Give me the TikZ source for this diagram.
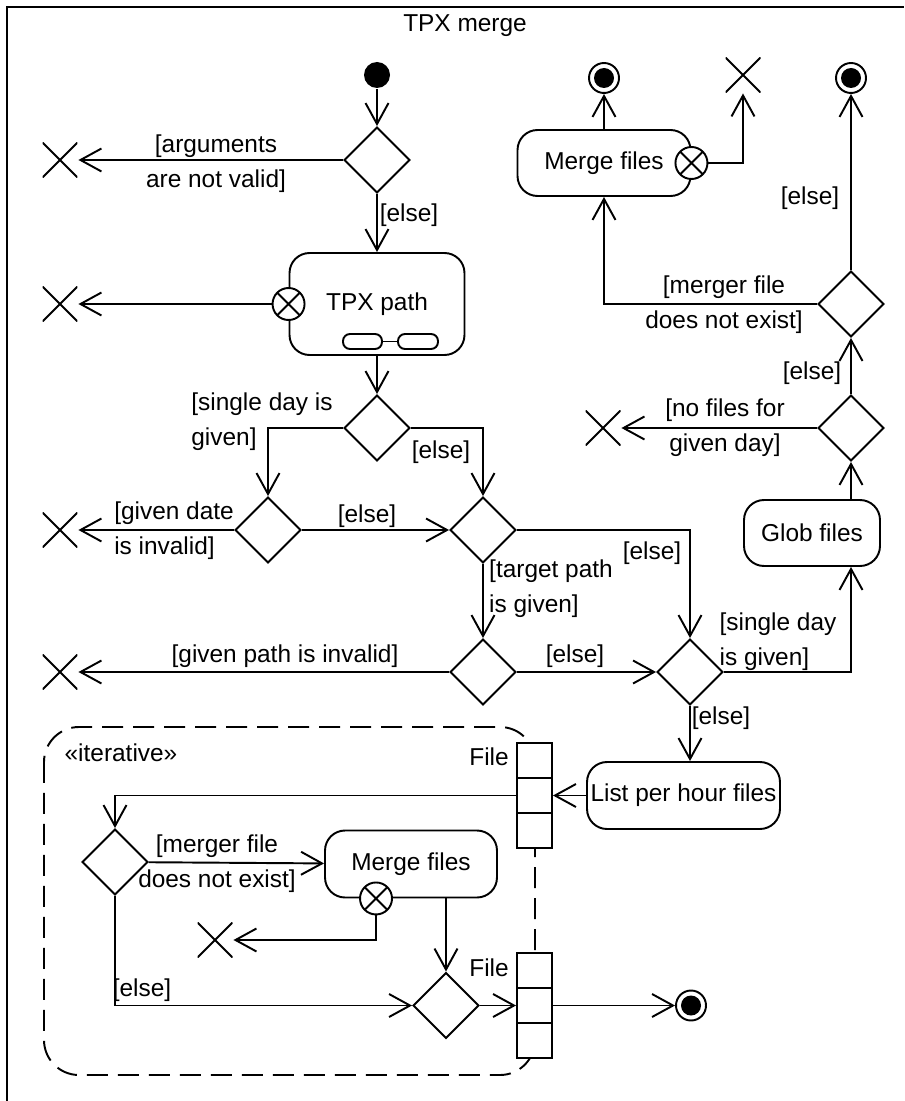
\documentclass[tikz,border=0pt]{standalone}
\usepackage{fontspec}
\setmainfont{Liberation Sans}
\usetikzlibrary{shapes.geometric,arrows.meta}

\begin{document}
\begin{tikzpicture}[x=0.02cm, y=-0.02cm, line width=1.1pt,
    font=\fontsize{13.9}{19.9}\selectfont,
    flow/.style={-{Straight Barb[length=0.42cm,width=0.46cm]}},
    action/.style={draw, fill=white, rounded corners=0.4cm, inner sep=0pt, minimum height=1.32cm},
    decision/.style={draw, fill=white, diamond, inner sep=0pt, minimum size=1.32cm},
    start/.style={circle, fill=black, inner sep=0pt, minimum size=0.52cm},
    stop/.style={circle, draw, fill=white, inner sep=0pt, minimum size=0.6cm,
        path picture={\fill[black] (path picture bounding box.center) circle (0.2cm);}},
    flowend/.style={inner sep=0pt, minimum size=0.7cm,
        path picture={\draw[line width=1.1pt] (path picture bounding box.north west) -- (path picture bounding box.south east)
            (path picture bounding box.south west) -- (path picture bounding box.north east);}},
    xpin/.style={circle, draw, fill=white, inner sep=0pt, minimum size=0.64cm,
        path picture={\draw[line width=1.1pt] (path picture bounding box.north west) -- (path picture bounding box.south east)
            (path picture bounding box.south west) -- (path picture bounding box.north east);}},
    objpin/.style={draw, fill=white, inner sep=0pt, minimum width=0.7cm, minimum height=2.1cm,
        path picture={\draw[line width=1.1pt] ([yshift=-0.7cm]path picture bounding box.north west) -- ([yshift=-0.7cm]path picture bounding box.north east)
            ([yshift=0.7cm]path picture bounding box.south west) -- ([yshift=0.7cm]path picture bounding box.south east);}},
    guard/.style={inner sep=0pt}
]
    \useasboundingbox (0,0) rectangle (904,1101);
    \draw (7,1101) -- (7,7) -- (904,7);
    \node (title) at (465,26) {TPX merge};

    % main flow
    \node[start] (init) at (377,75) {};
    \node[decision] (d1) at (377,160) {};
    \node[flowend] (endA) at (60,160) {};
    \node[action, minimum width=3.5cm, minimum height=2.04cm] (tpx) at (377,304) {TPX path};
    \draw[rounded corners=0.14cm] (343,334) rectangle (382,349) (398,334) rectangle (438,349);
    \draw (382,341.5) -- (398,341.5);
    \node[xpin] (tpxPin) at (tpx.west) {};
    \node[flowend] (endB) at (60,304) {};
    \node[decision] (d2) at (377,428) {};
    \node[decision] (d3) at (268,530) {};
    \node[decision] (d4) at (483,530) {};
    \node[flowend] (endC) at (60,530) {};
    \node[decision] (d5) at (483,672) {};
    \node[decision] (d6) at (690,672) {};
    \node[flowend] (endD) at (60,672) {};
    \node[action, minimum width=2.72cm] (glob) at (812,533) {Glob files};
    \node[decision] (d7) at (851,428) {};
    \node[flowend] (endE) at (603,428) {};
    \node[decision] (d8) at (851,304) {};
    \node[stop] (fin2) at (851,78) {};
    \node[action, minimum width=3.46cm] (merge1) at (604,163) {Merge files};
    \node[xpin] (mergePin1) at (merge1.east) {};
    \node[stop] (fin1) at (604,78) {};
    \node[flowend] (endF) at (743,75) {};
    \node[action, minimum width=3.86cm, minimum height=1.34cm] (list) at (683.5,795.5) {List per hour files};

    % expansion region
    \draw[dash pattern=on 0.42cm off 0.2cm, rounded corners=0.7cm] (44,727) rectangle (535,1075);
    \node (iter) at (121,753) {«iterative»};
    \node[objpin] (pinA) at (534.5,795.5) {};
    \node[objpin] (pinB) at (534.5,1005.5) {};
    \node (fileA) at (489,757) {File};
    \node (fileB) at (489,968) {File};
    \node[decision] (d9) at (115,862) {};
    \node[action, minimum width=3.44cm, minimum height=1.34cm] (merge2) at (411,864) {Merge files};
    \node[xpin] (mergePin2) at ([xshift=-0.7cm]merge2.south) {};
    \node[flowend] (endG) at (215,940) {};
    \node[decision] (d10) at (446,1005.5) {};
    \node[stop] (fin3) at (691,1005.5) {};

    % connectors
    \draw[flow] (init) -- (d1);
    \draw[flow] (d1) -- (endA);
    \draw[flow] (d1) -- (tpx);
    \draw[flow] (tpxPin) -- (endB);
    \draw[flow] (tpx) -- (d2);
    \draw[flow] (d2) -| (d3);
    \draw[flow] (d2) -| (d4);
    \draw[flow] (d3) -- (endC);
    \draw[flow] (d3) -- (d4);
    \draw[flow] (d4) -- (d5);
    \draw[flow] (d4) -| (d6);
    \draw[flow] (d5) -- (endD);
    \draw[flow] (d5) -- (d6);
    \draw[flow] (d6) -| (glob.south -| d7);
    \draw[flow] (d6) -- (list.north -| d6);
    \draw[flow] (glob.north -| d7) -- (d7);
    \draw[flow] (d7) -- (endE);
    \draw[flow] (d7) -- (d8);
    \draw[flow] (d8) -| (merge1);
    \draw[flow] (d8) -- (fin2);
    \draw[flow] (merge1) -- (fin1);
    \draw[flow] (mergePin1) -| (endF);
    \draw[flow] (list) -- (pinA);
    \draw[flow] (pinA) -| (d9);
    \draw[flow] (d9) -- (merge2);
    \draw[flow] (mergePin2) |- (endG);
    \draw[flow] (merge2.south -| d10) -- (d10);
    \draw[flow] (d9) |- (d10);
    \draw[flow] (d10) -- (pinB);
    \draw[flow] (pinB) -- (fin3);

    % guards
    \node[guard, align=center] (gArgs) at (216,164) {[arguments\\are not valid]};
    \node[guard] (gElse1) at (409,215) {[else]};
    \node[guard, align=left] (gSingle1) at (262,422) {[single day is\\given]};
    \node[guard] (gElse2) at (441,452) {[else]};
    \node[guard, align=left] (gDate) at (174,531) {[given date\\is invalid]};
    \node[guard] (gElse3) at (367,516) {[else]};
    \node[guard, align=left] (gTarget) at (551,589) {[target path\\is given]};
    \node[guard] (gElse4) at (652,553) {[else]};
    \node[guard] (gPath) at (285,656) {[given path is invalid]};
    \node[guard] (gElse5) at (575,656) {[else]};
    \node[guard, align=left] (gSingle2) at (778,642) {[single day\\is given]};
    \node[guard] (gElse6) at (721,718) {[else]};
    \node[guard, align=center] (gNoFiles) at (725,428) {[no files for\\given day]};
    \node[guard] (gElse7) at (812,373) {[else]};
    \node[guard, align=center] (gMerger1) at (724,305) {[merger file\\does not exist]};
    \node[guard] (gElse8) at (810,198) {[else]};
    \node[guard, align=center] (gMerger2) at (217,864) {[merger file\\does not exist]};
    \node[guard] (gElse9) at (142,990) {[else]};
\end{tikzpicture}
\end{document}
